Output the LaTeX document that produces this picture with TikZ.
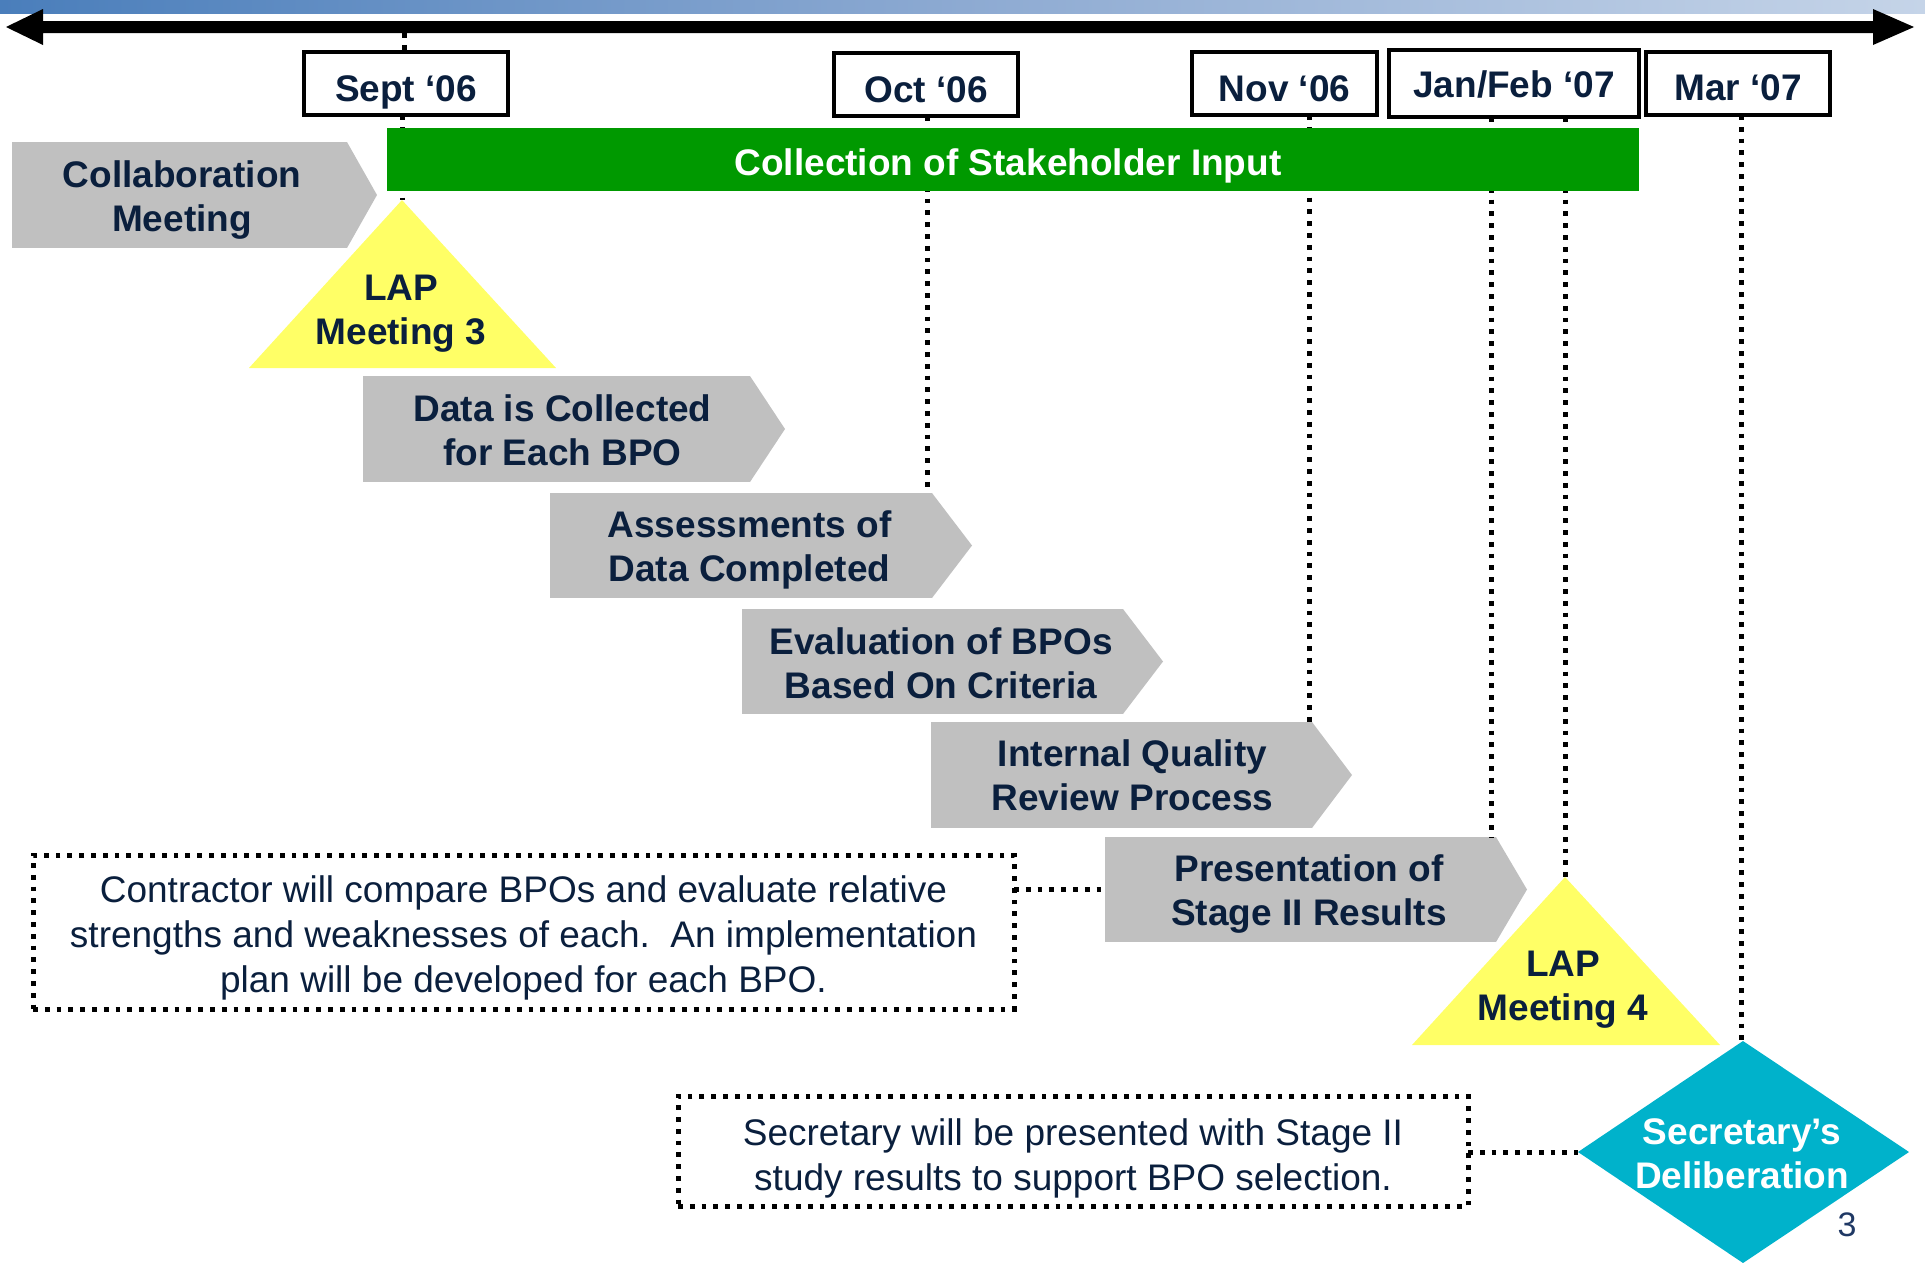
\documentclass[tikz,border=0pt]{standalone}
\usepackage{fontspec}
\setmainfont{Liberation Sans}
\usetikzlibrary{calc}
\definecolor{navy}{HTML}{0A1F3D}
\definecolor{cgray}{HTML}{C0C0C0}
\definecolor{cgreen}{HTML}{009900}
\definecolor{cyellow}{HTML}{FFFF66}
\definecolor{cteal}{HTML}{00B2CB}
\definecolor{pgnum}{HTML}{1F3864}
\definecolor{barL}{HTML}{4A7EBB}
\definecolor{barM}{HTML}{8DAAD2}
\definecolor{barR}{HTML}{C5D4E8}
\begin{document}
\begin{tikzpicture}[x=1pt,y=-1pt,
  bigbf/.style={font=\bfseries\fontsize{37}{44}\selectfont},
  chev/.style={fill=cgray, inner sep=0pt, outer sep=0pt},
  chevtext/.style={bigbf, text=navy, align=center, inner sep=0pt},
  month/.style={bigbf, draw=black, line width=3.3pt, fill=white, text=navy, inner sep=0pt, outer sep=0pt,
    text height=36pt, text depth=0pt},
  dotline/.style={line width=5pt, dash pattern=on 4.8pt off 7pt, black},
  notebox/.style={draw=black, line width=5pt, dash pattern=on 4.8pt off 7pt, inner sep=0pt, outer sep=0pt},
  notetext/.style={align=center, text=navy, font=\fontsize{37}{45}\selectfont, inner sep=0pt},
  trilabel/.style={bigbf, text=navy, align=center, inner sep=0pt},
]
\useasboundingbox (0,0) rectangle (1925,1262);
% top gradient bar
\shade[left color=barL, right color=barR, middle color=barM] (0,0) rectangle (1925,13);
% timeline arrow
\fill[black] (6,27) -- (43,9) -- (43,21) -- (1873,21) -- (1873,9) -- (1914,27) -- (1873,45) -- (1873,33) -- (43,33) -- (43,45) -- cycle;
\coordinate (tlsep) at (404,33);

% shapes' anchor coordinates
\coordinate (lap3apex) at (402,200);
\coordinate (lap4apex) at (1565,877);
\coordinate (delibN) at (1743,1041);
\coordinate (delibW) at (1578,1152);

% chevrons
\node[chev, minimum width=335pt, minimum height=106pt] (collab) at (179.5,195) {};
\node[chev, minimum width=387pt, minimum height=106pt] (data) at (556.5,429) {};
\node[chev, minimum width=382pt, minimum height=105pt] (assess) at (741,545.5) {};
\node[chev, minimum width=381pt, minimum height=105pt] (evalu) at (932.5,661.5) {};
\node[chev, minimum width=381pt, minimum height=106pt] (internal) at (1121.5,775) {};
\node[chev, minimum width=391pt, minimum height=105pt] (pres) at (1300.5,889.5) {};
\foreach \n/\d in {collab/30, data/35, assess/40, evalu/40, internal/40, pres/31} {
  \fill[cgray] (\n.north east) -- ($(\n.east)+(\d,0)$) -- (\n.south east) -- cycle;
}
\node[chevtext] (collabT) at ($(collab)+(2.5,5)$) {Collaboration\\Meeting};
\node[chevtext] (dataT) at ($(data)+(6,1.5)$) {Data is Collected\\for Each BPO};
\node[chevtext] (assessT) at ($(assess)+(8.5,4)$) {Assessments of\\Data Completed};
\node[chevtext] (evaluT) at ($(evalu)+(8.5,2)$) {Evaluation of BPOs\\Based On Criteria};
\node[chevtext] (internalT) at ($(internal)+(11,0.5)$) {Internal Quality\\Review Process};
\node[chevtext] (presT) at ($(pres)+(8.5,4)$) {Presentation of\\Stage II Results};

% month boxes
\node[month, minimum width=204pt, minimum height=63pt] (sep) at (406,83.5) {Sept ‘06};
\node[month, minimum width=184pt, minimum height=63pt] (oct) at (926,84.5) {Oct ‘06};
\node[month, minimum width=185pt, minimum height=63pt] (nov) at (1284.5,83.5) {Nov ‘06};
\node[month, minimum width=250pt, minimum height=67pt, text height=27pt] (jan) at (1514,83.5) {Jan/Feb ‘07};
\node[month, minimum width=184pt, minimum height=63pt, text height=34pt] (mar) at (1738,83.5) {Mar ‘07};

% dotted connectors
\draw[dotline] (tlsep) -- (sep.north -| tlsep);
\draw[dotline] (sep.south -| lap3apex) -- (lap3apex);
\draw[dotline] ([xshift=-5pt]assess.north east |- oct.south) -- ([xshift=-5pt]assess.north east);
\draw[dotline] ([xshift=-3pt]internal.north east |- nov.south) -- ([xshift=-3pt]internal.north east);
\draw[dotline] ([xshift=-5pt]pres.north east |- jan.south) -- ([xshift=-5pt]pres.north east);
\draw[dotline] (lap4apex |- jan.south) -- (lap4apex);
\draw[dotline] ([xshift=-2pt]delibN |- mar.south) -- ([xshift=-2pt]delibN);

% green bar
\node[fill=cgreen, minimum width=1252pt, minimum height=63pt, inner sep=0pt] (collect) at (1013,159.5) {};
\node[bigbf, text=white, inner sep=0pt] (collectT) at ($(collect)+(-5,6)$) {Collection of Stakeholder Input};

% LAP triangles
\fill[cyellow] (lap3apex) -- (556,368) -- (249,368) -- cycle;
\node[trilabel] (lap3) at (401,314) {LAP\\Meeting 3};
\fill[cyellow] (lap4apex) -- (1720,1045) -- (1412,1045) -- cycle;
\node[trilabel] (lap4) at (1563,990) {LAP\\Meeting 4};

% diamond
\fill[cteal] (delibN) -- (1909,1152) -- (1743,1263) -- (delibW) -- cycle;
\node[bigbf, text=white, align=center, inner sep=0pt] (delib) at (1742,1154) {Secretary’s\\Deliberation};

% note boxes
\node[notebox, minimum width=981pt, minimum height=154pt] (contr) at (523.5,932) {};
\node[notetext] (contrT) at ($(contr)+(0,6)$)
  {Contractor will compare BPOs and evaluate relative\\strengths and weaknesses of each.\ \ An implementation\\plan will be developed for each BPO.};
\node[notebox, minimum width=790pt, minimum height=110pt] (secnote) at (1073,1151) {};
\node[notetext] (secnoteT) at ($(secnote)+(0,7)$)
  {Secretary will be presented with Stage II\\study results to support BPO selection.};
\draw[dotline] (pres.west -| contr.east) -- (pres.west);
\draw[dotline] (secnote.east |- delibW) -- (delibW);

% page number
\node[text=pgnum, font=\fontsize{34}{40}\selectfont, inner sep=0pt] (pgno) at (1847,1225) {3};
\end{tikzpicture}
\end{document}
